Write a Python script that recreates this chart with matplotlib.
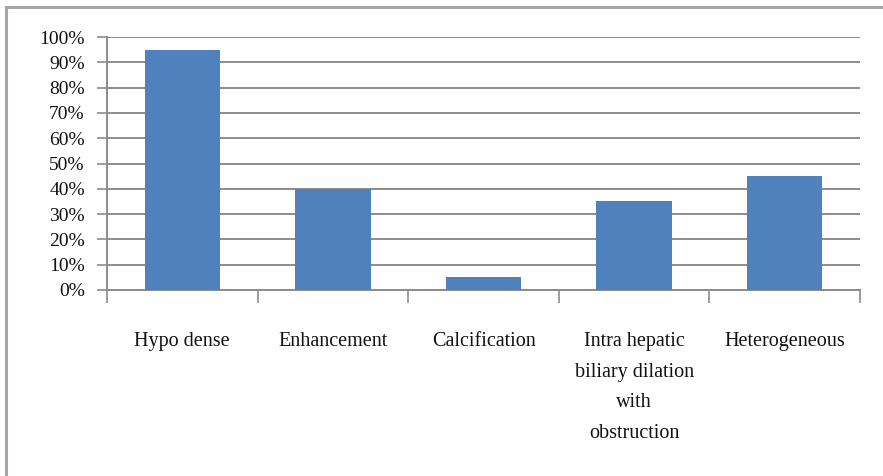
import matplotlib
matplotlib.use("Agg")
import matplotlib.pyplot as plt
from matplotlib.lines import Line2D
from matplotlib.ticker import FixedLocator, PercentFormatter

categories = ["Hypo dense", "Enhancement", "Calcification",
              "Intra hepatic\nbiliary dilation\nwith\nobstruction", "Heterogeneous"]
values = [0.95, 0.40, 0.05, 0.35, 0.45]
yticks = [0, 0.1, 0.2, 0.3, 0.4, 0.5, 0.6, 0.7, 0.8, 0.9, 1.0]

W, H = 883, 476
fig = plt.figure(figsize=(W / 100, H / 100), dpi=100)
fig.patch.set_facecolor("white")

# outer chart frame (left and top edges visible)
bc = "#a6a6a6"
fig.add_artist(Line2D([6 / W, 6 / W], [0, 1 - 7 / H], transform=fig.transFigure, color=bc, lw=2.2))
fig.add_artist(Line2D([6 / W, 1], [1 - 7 / H, 1 - 7 / H], transform=fig.transFigure, color=bc, lw=2.2))

ax = fig.add_axes([107 / W, 1 - 290 / H, (860 - 107) / W, (290 - 37) / H])
x = list(range(len(categories)))
ax.bar(x, values, width=0.5, color="#4f81bd", zorder=3)
ax.set_xlim(-0.5, len(categories) - 0.5)
ax.set_ylim(0, 1)

gc = "#8c8c8c"
ax.set_yticks(yticks)
ax.yaxis.set_major_formatter(PercentFormatter(1.0, decimals=0))
ax.yaxis.grid(True, color=gc, lw=1.4, zorder=0)
ax.set_axisbelow(True)

ax.set_xticks(x)
ax.set_xticklabels(categories, family="Liberation Serif", fontsize=14.5,
                   linespacing=1.85, color="#111111")
ax.xaxis.set_minor_locator(FixedLocator([i - 0.5 for i in range(len(categories) + 1)]))
ax.tick_params(axis="x", which="major", length=0, pad=30)
ax.tick_params(axis="x", which="minor", length=9, width=1.2, color=gc, direction="out")
ax.tick_params(axis="y", length=7, width=1.2, color=gc, direction="out", pad=9)
for lbl in ax.get_yticklabels():
    lbl.set_family("Liberation Serif")
    lbl.set_fontsize(14)
    lbl.set_color("#111111")

for s in ["top", "right"]:
    ax.spines[s].set_visible(False)
for s in ["left", "bottom"]:
    ax.spines[s].set_color(gc)
    ax.spines[s].set_linewidth(1.4)

fig.savefig("out.png", dpi=100, facecolor="white")
